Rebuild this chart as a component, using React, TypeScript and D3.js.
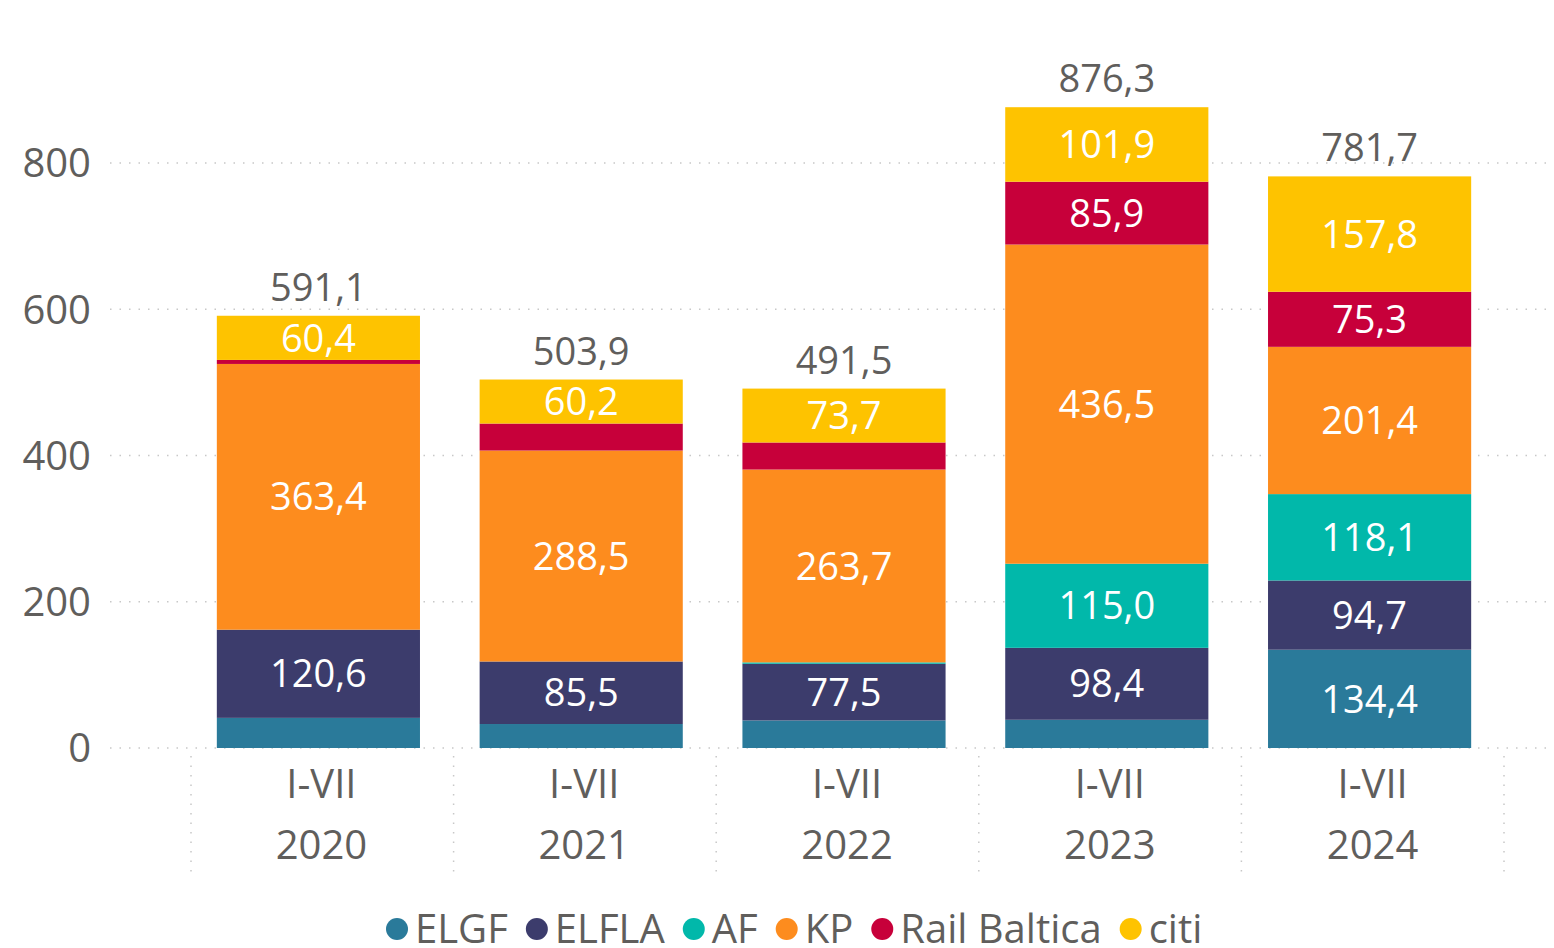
import React, { useEffect, useRef } from 'react';
import * as d3 from 'd3';

const categories = ['2020', '2021', '2022', '2023', '2024'];
const periodLabel = 'I-VII';
const seriesNames = ['ELGF', 'ELFLA', 'AF', 'KP', 'Rail Baltica', 'citi'];
const seriesColors = ['#2A7A9A', '#3C3C6C', '#01B8AA', '#FD8C1E', '#C7003A', '#FEC300'];

const elgf = [41.2, 32.8, 37.7, 38.6, 134.4];
const elfla = [120.6, 85.5, 77.5, 98.4, 94.7];
const af = [0, 0, 1.9, 115.0, 118.1];
const kp = [363.4, 288.5, 263.7, 436.5, 201.4];
const railBaltica = [5.5, 36.9, 37.0, 85.9, 75.3];
const citi = [60.4, 60.2, 73.7, 101.9, 157.8];
const totals = [591.1, 503.9, 491.5, 876.3, 781.7];

const yTicks = [0, 200, 400, 600, 800];

const fmt = (v: number) => v.toFixed(1).replace('.', ',');

export default function App() {
  const svgRef = useRef<SVGSVGElement>(null);

  useEffect(() => {
    if (!svgRef.current) return;
    const svg = d3.select(svgRef.current);
    svg.selectAll('*').remove();

    const width = 1554;
    const font = "'Open Sans', 'Noto Sans', sans-serif";
    const grey = '#605E5C';

    const rows = categories.map((c, i) => ({
      cat: c,
      ELGF: elgf[i],
      ELFLA: elfla[i],
      AF: af[i],
      KP: kp[i],
      'Rail Baltica': railBaltica[i],
      citi: citi[i],
    }));
    const stacked = d3.stack<any>().keys(seriesNames)(rows);

    const x = d3.scaleBand().domain(categories).range([187, 1501]).paddingInner(0.227).paddingOuter(0.1135);
    const y = d3.scaleLinear().domain([0, 800]).range([748, 163]);

    // gridlines
    svg.append('g')
      .selectAll('line')
      .data(yTicks)
      .enter()
      .append('line')
      .attr('x1', 110)
      .attr('x2', width)
      .attr('y1', (d) => y(d))
      .attr('y2', (d) => y(d))
      .attr('stroke', '#C8C8C8')
      .attr('stroke-width', 1.5)
      .attr('stroke-dasharray', '1.5,8');

    // y tick labels
    svg.append('g')
      .selectAll('text')
      .data(yTicks)
      .enter()
      .append('text')
      .attr('x', 91)
      .attr('y', (d) => y(d))
      .attr('dy', '0.36em')
      .attr('text-anchor', 'end')
      .attr('font-family', font)
      .attr('font-size', 40)
      .attr('fill', grey)
      .text((d) => d);

    // vertical separators under the axis
    const sepStep = (1504 - 191) / categories.length;
    const seps = d3.range(categories.length + 1).map((i) => 191 + i * sepStep);
    svg.append('g')
      .selectAll('line')
      .data(seps)
      .enter()
      .append('line')
      .attr('x1', (d) => d)
      .attr('x2', (d) => d)
      .attr('y1', 756)
      .attr('y2', 878)
      .attr('stroke', '#C8C8C8')
      .attr('stroke-width', 1.5)
      .attr('stroke-dasharray', '1.5,8');

    // bars
    const layers = svg.append('g')
      .selectAll('g')
      .data(stacked)
      .enter()
      .append('g')
      .attr('fill', (_d, i) => seriesColors[i]);

    layers.selectAll('rect')
      .data((d) => d)
      .enter()
      .append('rect')
      .attr('x', (d: any) => x(d.data.cat) as number)
      .attr('width', x.bandwidth())
      .attr('y', (d) => y(d[1]))
      .attr('height', (d) => y(d[0]) - y(d[1]));

    // data labels inside segments (small ones hidden like the original)
    layers.selectAll('text')
      .data((d) => d.filter((s) => y(s[0]) - y(s[1]) > 40))
      .enter()
      .append('text')
      .attr('x', (d: any) => (x(d.data.cat) as number) + x.bandwidth() / 2)
      .attr('y', (d) => (y(d[0]) + y(d[1])) / 2)
      .attr('dy', '0.36em')
      .attr('text-anchor', 'middle')
      .attr('font-family', font)
      .attr('font-size', 38)
      .attr('fill', '#FFFFFF')
      .text((d) => fmt(d[1] - d[0]));

    // totals
    svg.append('g')
      .selectAll('text')
      .data(totals)
      .enter()
      .append('text')
      .attr('x', (_d, i) => (x(categories[i]) as number) + x.bandwidth() / 2)
      .attr('y', (d) => y(d) - 15)
      .attr('text-anchor', 'middle')
      .attr('font-family', font)
      .attr('font-size', 38)
      .attr('fill', grey)
      .text((d) => fmt(d));

    // category labels
    const cats = svg.append('g')
      .selectAll('g')
      .data(categories)
      .enter()
      .append('g')
      .attr('transform', (d) => `translate(${(x(d) as number) + x.bandwidth() / 2 + 3},0)`);
    cats.append('text')
      .attr('y', 798)
      .attr('text-anchor', 'middle')
      .attr('font-family', font)
      .attr('font-size', 40)
      .attr('fill', grey)
      .text(periodLabel);
    cats.append('text')
      .attr('y', 859)
      .attr('text-anchor', 'middle')
      .attr('font-family', font)
      .attr('font-size', 40)
      .attr('fill', grey)
      .text((d) => d);

    // legend
    const legend = svg.append('g').attr('transform', 'translate(0,929)');
    let lx = 397;
    seriesNames.forEach((name, i) => {
      legend.append('circle')
        .attr('cx', lx)
        .attr('cy', 0)
        .attr('r', 11)
        .attr('fill', seriesColors[i]);
      const t = legend.append('text')
        .attr('x', lx + 18)
        .attr('y', 14)
        .attr('font-family', font)
        .attr('font-size', 40)
        .attr('fill', grey)
        .text(name);
      const w = (t.node() as SVGTextElement).getComputedTextLength();
      lx += 18 + w + 29;
    });
  }, []);

  return (
    <div style={{ position: 'absolute', left: 0, top: 0 }}>
      <svg ref={svgRef} width={1554} height={948} style={{ display: 'block', background: '#fff' }}></svg>
    </div>
  );
}
